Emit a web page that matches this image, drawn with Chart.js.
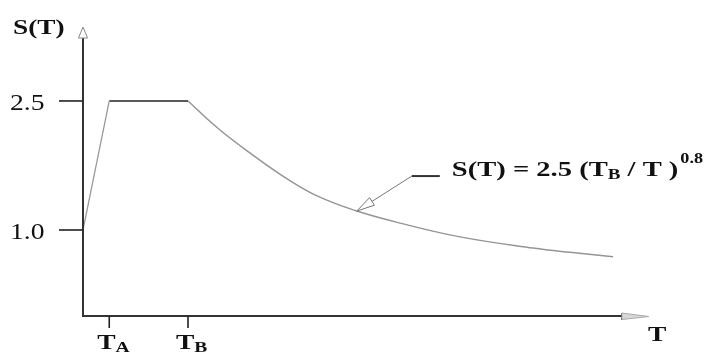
<!DOCTYPE html>
<html>
<head>
<meta charset="utf-8">
<script src="https://cdn.jsdelivr.net/npm/chart.js@4"></script>
<style>
html,body{margin:0;padding:0;background:#fff;}
#wrap{width:709px;height:354px;}
</style>
</head>
<body>
<div id="wrap"><canvas id="c" width="709" height="354"></canvas></div>
<script>
// Data
const periods  = [0, 0.1, 0.4, 0.515, 0.643, 0.770, 0.896, 1.043, 1.208, 1.436, 1.714, 1.855, 2.019];
const spectrum = [1.0, 2.5, 2.5, 2.18, 1.88, 1.61, 1.39, 1.22, 1.08, 0.92, 0.79, 0.74, 0.69];
const yTicks = [1.0, 2.5];
const yTickLabels = ['1.0', '2.5'];
const xTicks = [0.1, 0.4];
const xTickLabels = [['T', 'A'], ['T', 'B']];
const xTitle = 'T';
const yTitle = 'S(T)';
const formula = ['S(T) = 2.5 (T', 'B', ' / T )', '0.8'];
const annotationIndex = 7;

const pts = periods.map((t, i) => ({x: t, y: spectrum[i]}));
const rise = pts.slice(0, 2);
const plateau = pts.slice(1, 3);
const decay = pts.slice(2);

const SERIF = '"Liberation Serif", "DejaVu Serif", serif';

function sText(ctx, str, x, y, font, sx) {
  ctx.save();
  ctx.font = font;
  ctx.translate(x, y);
  ctx.scale(sx, 1);
  ctx.fillText(str, 0, 0);
  const w = ctx.measureText(str).width * sx;
  ctx.restore();
  return w;
}

const decor = {
  id: 'decor',
  afterDraw(chart) {
    const ctx = chart.ctx;
    const xs = chart.scales.x, ys = chart.scales.y;
    const x0 = xs.getPixelForValue(0);
    const y0 = ys.getPixelForValue(0);
    const top = chart.chartArea.top;
    const right = chart.chartArea.right;
    ctx.save();
    ctx.fillStyle = '#111';
    ctx.textBaseline = 'alphabetic';
    ctx.textAlign = 'left';

    // axes
    ctx.strokeStyle = '#333';
    ctx.lineWidth = 2;
    ctx.beginPath();
    ctx.moveTo(x0, y0 + 1);
    ctx.lineTo(x0, top + 11);
    ctx.moveTo(x0 - 1, y0);
    ctx.lineTo(right - 27, y0);
    ctx.stroke();
    ctx.lineWidth = 1.5;
    ctx.beginPath();
    ctx.moveTo(right - 27, y0 - 3);
    ctx.lineTo(right - 27, y0 + 4);
    ctx.stroke();
    // y arrowhead (hollow)
    ctx.strokeStyle = '#888';
    ctx.lineWidth = 1;
    ctx.beginPath();
    ctx.moveTo(x0 - 4.5, top + 11);
    ctx.lineTo(x0, top);
    ctx.lineTo(x0 + 4.5, top + 11);
    ctx.closePath();
    ctx.stroke();
    // x arrowhead
    ctx.fillStyle = '#d8d8d8';
    ctx.beginPath();
    ctx.moveTo(right - 27, y0 - 3);
    ctx.lineTo(right, y0 + 0.5);
    ctx.lineTo(right - 27, y0 + 3.5);
    ctx.closePath();
    ctx.fill();
    ctx.strokeStyle = '#aaa';
    ctx.stroke();

    // y ticks
    ctx.fillStyle = '#111';
    ctx.strokeStyle = '#222';
    ctx.lineWidth = 1.6;
    yTicks.forEach((v, i) => {
      const py = ys.getPixelForValue(v);
      ctx.beginPath();
      ctx.moveTo(x0 - 24, py);
      ctx.lineTo(x0, py);
      ctx.stroke();
      sText(ctx, yTickLabels[i], 10, py + 9.5, '23px ' + SERIF, 1.2);
    });
    // x ticks
    xTicks.forEach((v, i) => {
      const px = xs.getPixelForValue(v);
      ctx.beginPath();
      ctx.moveTo(px, y0);
      ctx.lineTo(px, y0 + 12);
      ctx.stroke();
      let x = px - 12;
      x += sText(ctx, xTickLabels[i][0], x, y0 + 33, 'bold 22px ' + SERIF, 1.25);
      sText(ctx, xTickLabels[i][1], x, y0 + 36, 'bold 15px ' + SERIF, 1.3);
    });
    // axis titles
    sText(ctx, yTitle, 13, 34, 'bold 21px ' + SERIF, 1.3);
    sText(ctx, xTitle, 648, 341, 'bold 22px ' + SERIF, 1.25);

    // annotation leader
    const meta = chart.getDatasetMeta(2);
    const pt = meta.data[annotationIndex - 2];
    const tipX = pt.x, tipY = pt.y;
    const elbowX = tipX + 55, elbowY = tipY - 35;
    ctx.strokeStyle = '#777';
    ctx.lineWidth = 1;
    ctx.beginPath();
    ctx.moveTo(tipX, tipY);
    ctx.lineTo(elbowX, elbowY);
    ctx.stroke();
    ctx.strokeStyle = '#333';
    ctx.lineWidth = 2;
    ctx.beginPath();
    ctx.moveTo(elbowX, elbowY);
    ctx.lineTo(elbowX + 28, elbowY);
    ctx.stroke();
    // hollow arrowhead
    const ang = Math.atan2(elbowY - tipY, elbowX - tipX);
    const L = 18, W = 4.5;
    const bx = tipX + Math.cos(ang) * L, by = tipY + Math.sin(ang) * L;
    const nx = -Math.sin(ang) * W, ny = Math.cos(ang) * W;
    ctx.strokeStyle = '#777';
    ctx.lineWidth = 1;
    ctx.fillStyle = '#fff';
    ctx.beginPath();
    ctx.moveTo(tipX, tipY);
    ctx.lineTo(bx + nx, by + ny);
    ctx.lineTo(bx - nx, by - ny);
    ctx.closePath();
    ctx.fill();
    ctx.stroke();

    // formula
    ctx.fillStyle = '#111';
    let fx = elbowX + 40;
    const fy = elbowY;
    fx += sText(ctx, formula[0], fx, fy, 'bold 21px ' + SERIF, 1.36);
    fx += sText(ctx, formula[1], fx, fy + 3, 'bold 14px ' + SERIF, 1.36);
    fx += sText(ctx, formula[2], fx, fy, 'bold 21px ' + SERIF, 1.36);
    sText(ctx, formula[3], fx + 2, fy - 13, 'bold 14px ' + SERIF, 1.3);
    ctx.restore();
  }
};

new Chart(document.getElementById('c'), {
  type: 'line',
  data: {
    datasets: [
      {data: rise, borderColor: '#9a9a9a', borderWidth: 1.3, pointRadius: 0, tension: 0},
      {data: plateau, borderColor: '#222', borderWidth: 1.6, pointRadius: 0, tension: 0},
      {data: decay, borderColor: '#959595', borderWidth: 1.5, pointRadius: 0, tension: 0.4}
    ]
  },
  options: {
    responsive: false,
    animation: false,
    devicePixelRatio: 1,
    layout: {padding: {left: 83, right: 60, top: 27, bottom: 38}},
    plugins: {legend: {display: false}, tooltip: {enabled: false}},
    scales: {
      x: {type: 'linear', min: 0, max: 2.156, display: false},
      y: {type: 'linear', min: 0, max: 3.36, display: false}
    }
  },
  plugins: [decor]
});
</script>
</body>
</html>
